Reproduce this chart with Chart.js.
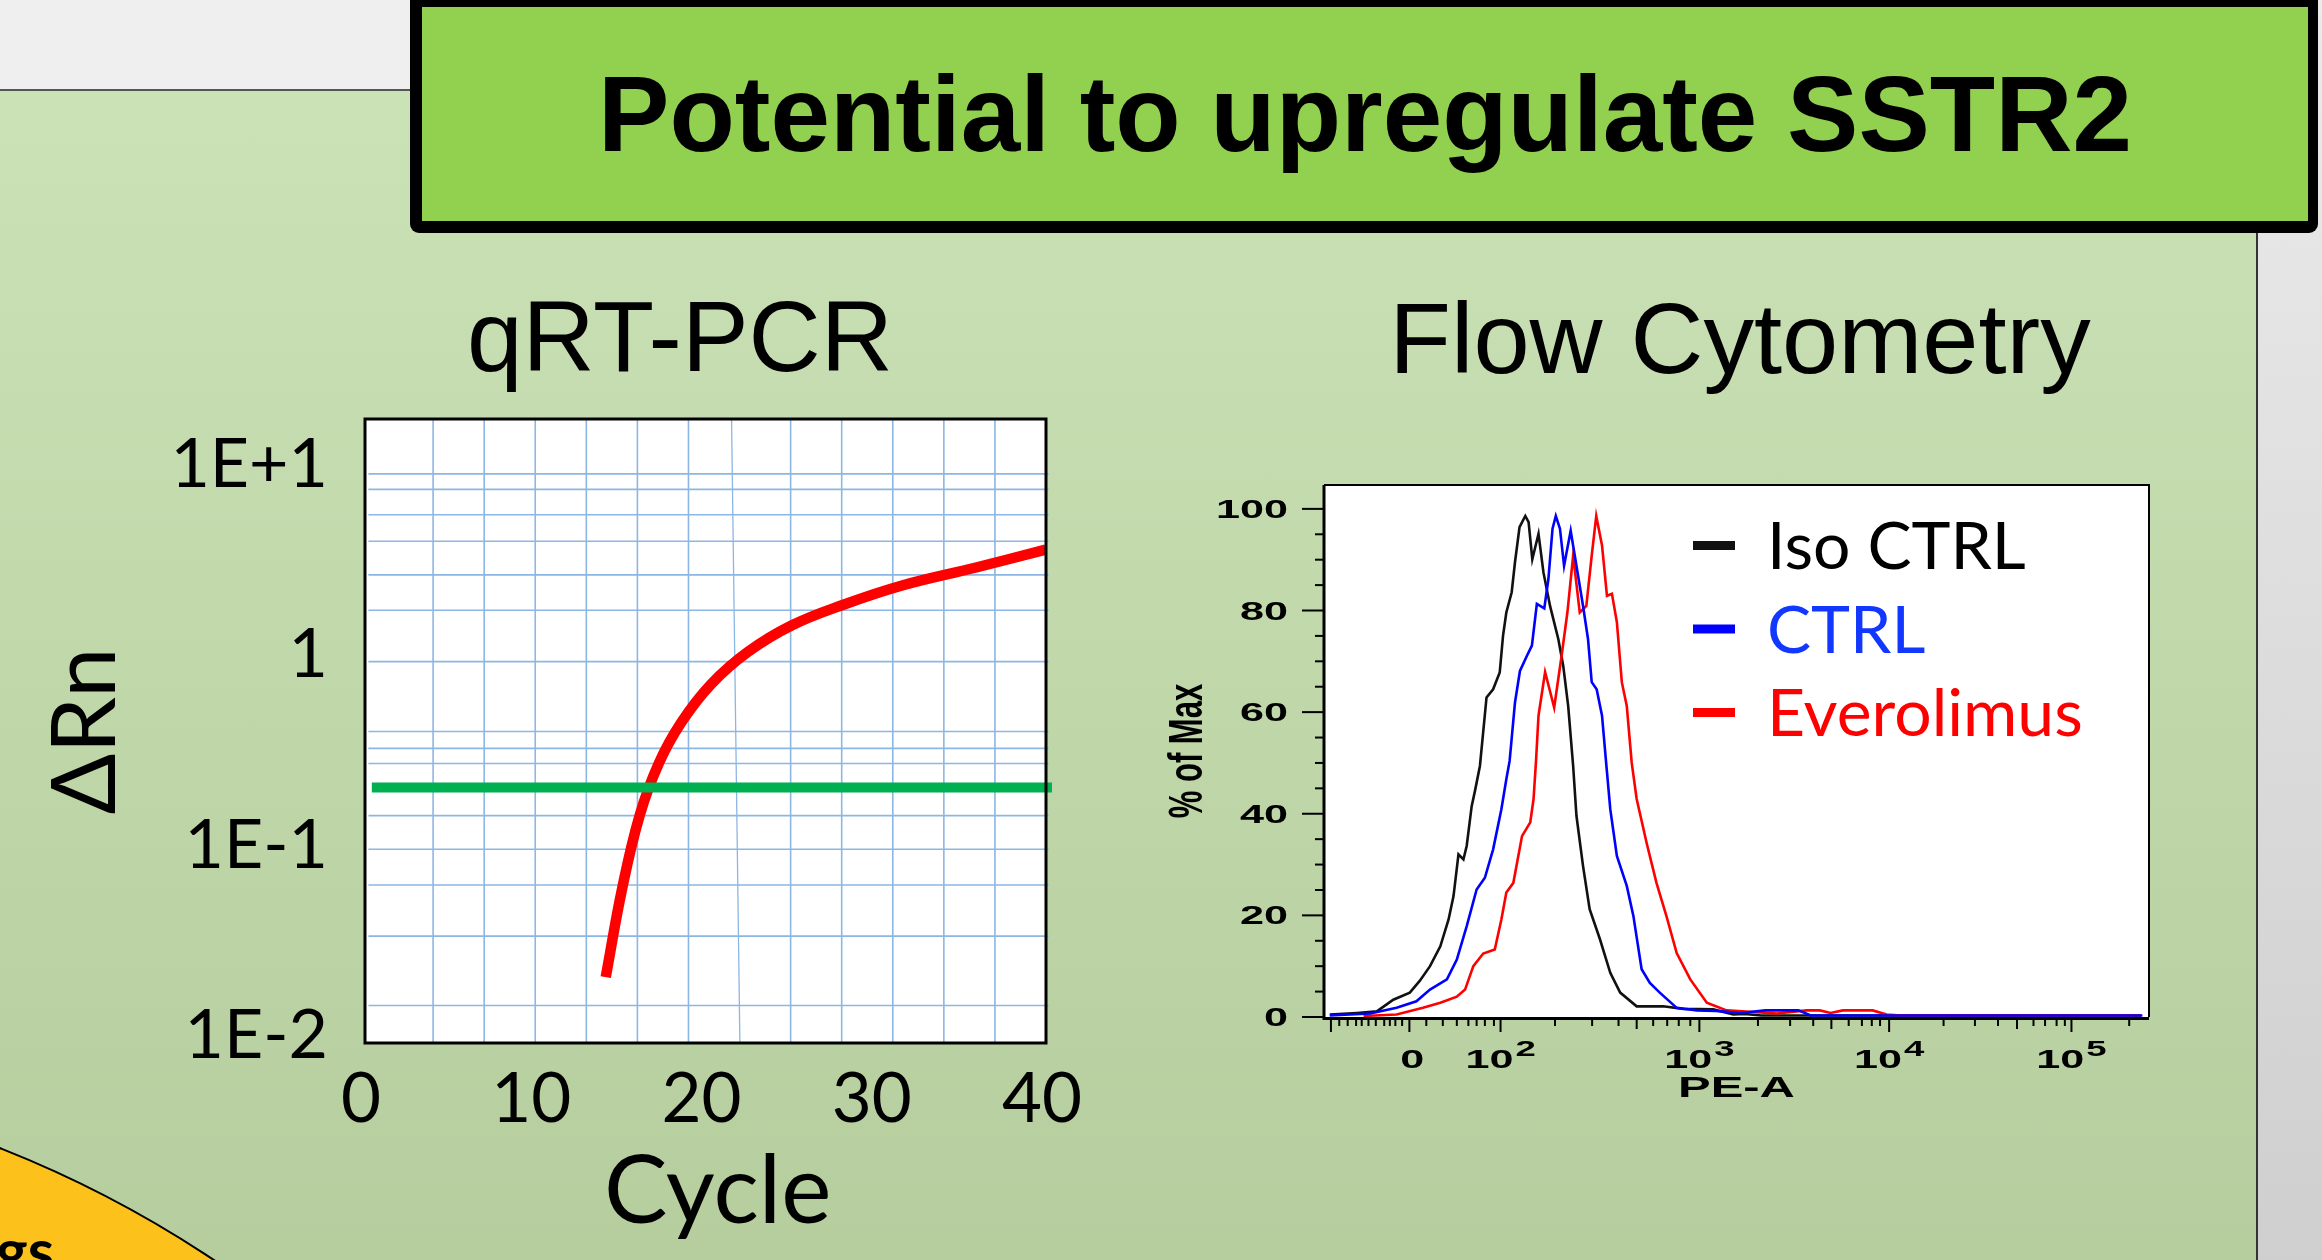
<!DOCTYPE html>
<html>
<head>
<meta charset="utf-8">
<title>Potential to upregulate SSTR2</title>
<script src="https://cdn.jsdelivr.net/npm/chart.js@4.4.1/dist/chart.umd.min.js"></script>
<style>
  html, body { margin: 0; padding: 0; }
  body { width: 2322px; height: 1260px; overflow: hidden; position: relative; background: #d6d6d6; font-family: 'Liberation Sans', Arial, sans-serif; }
  .abs { position: absolute; }
  #grayTop { left: 0; top: 0; width: 2258px; height: 90px; background: #efefef; }
  #grayRight { left: 2258px; top: 0; width: 64px; height: 1260px; background: linear-gradient(#ebebeb, #cfcfcf); }
  #panel { left: 0; top: 89px; width: 2258px; height: 1171px; box-sizing: border-box; background: linear-gradient(#cae2b6, #b6cd9e); border-top: 2px solid #555; border-right: 2px solid #333; }
  #circle { left: -1539px; top: 1069px; width: 2254px; height: 2254px; border-radius: 50%; background: #fdc11c; border: 2px solid #000; box-sizing: border-box; }
  #circleText { left: -4px; top: 1219px; font: bold 60px Lato, sans-serif; line-height: 1; color: #000; }
  #titleBox { left: 410px; top: -8px; width: 1908px; height: 241px; background: #000; border-radius: 9px; }
  #titleInner { left: 422px; top: 7px; width: 1886px; height: 214px; background: #92d050; display: flex; align-items: center; justify-content: center; font: bold 107px 'Liberation Sans', Arial, sans-serif; color: #000; white-space: nowrap; }
  .ctitle { font-family: 'Liberation Sans', Arial, sans-serif; line-height: 1; white-space: nowrap; transform: translateX(-50%); color: #000; }
  #t1 { left: 680px; top: 286px; font-size: 100px; }
  #t2 { left: 1740px; top: 288px; font-size: 101px; }
  #c1 { left: 0; top: 300px; }
  #c2 { left: 1150px; top: 440px; }
</style>
</head>
<body>
<div id="grayTop" class="abs"></div>
<div id="grayRight" class="abs"></div>
<div id="panel" class="abs"></div>
<div id="circle" class="abs"></div>
<div id="circleText" class="abs">gs</div>
<div id="titleBox" class="abs"></div>
<div id="titleInner" class="abs">Potential to upregulate SSTR2</div>
<div id="t1" class="abs ctitle">qRT-PCR</div>
<div id="t2" class="abs ctitle">Flow Cytometry</div>
<canvas id="c1" class="abs" width="1120" height="960"></canvas>
<canvas id="c2" class="abs" width="1040" height="700"></canvas>

<script>
// ---- qRT-PCR amplification plot ----
var CYCLE_TICKS = [0, 10, 20, 30, 40];
var DRN_TICKS = [0.01, 0.1, 1, 10];
var DRN_TICK_LABELS = ['1E-2', '1E-1', '1', '1E+1'];
var DRN_MIN = 0.0092;
var DRN_MAX = 17.4;

var AMP_CYCLE = [14.14, 15.10, 16.14, 17.27, 18.56, 20.32, 22.50, 25.08, 28.14, 31.60, 35.95, 39.98];
var AMP_DRN = [0.0204, 0.0593, 0.145, 0.272, 0.441, 0.703, 1.042, 1.437, 1.848, 2.332, 2.898, 3.586];

var THRESHOLD = 0.202;
var THRESHOLD_SPAN = [0.4, 40.35];

// the background grid of the schematic (not aligned with the labels)
var GRID_CYCLES = [4, 7, 10, 13, 16, 19, 25, 28, 31, 34, 37];
var GRID_SLANT_CYCLES = [21.53, 22.02];
var GRID_DRN = [0.01448, 0.0335, 0.0621, 0.0957, 0.1438, 0.2703, 0.3243, 0.398, 0.926, 1.723, 2.641, 3.97, 5.47, 7.43, 8.96];
var GRID_DRN_SPAN = [0.2, 40.15];

// ---- flow cytometry histogram (x in % of the PE-A axis width) ----
var ISO_X = [0.7, 4.0, 6.4, 8.4, 10.4, 11.6, 12.85, 14.1, 15.1, 15.7, 16.3, 16.9, 17.3, 17.9, 18.3, 18.9, 19.7, 20.5, 21.3, 21.7, 22.1, 22.75, 23.15, 23.7, 24.4, 24.8, 25.25, 26.0, 26.6, 27.4, 28.4, 29.0, 29.6, 30.2, 30.6, 31.4, 32.2, 33.45, 34.7, 35.9, 37.9, 41.1, 43.55, 47.2, 49.6, 51.0, 53.0, 99.0];
var ISO_Y = [0.5, 0.8, 1.1, 3.4, 4.8, 7.1, 10.0, 13.9, 19.2, 23.8, 32.0, 31.0, 33.7, 41.5, 44.5, 49.4, 62.9, 64.5, 67.8, 75.0, 79.6, 83.6, 89.5, 96.4, 98.6, 97.4, 90.1, 95.1, 87.5, 80.9, 74.4, 69.1, 61.2, 49.4, 39.6, 29.7, 21.2, 15.3, 8.7, 4.8, 2.1, 2.1, 1.6, 1.5, 0.5, 0.6, 0.3, 0.3];

var CTRL_X = [0.7, 5.6, 8.8, 11.2, 12.85, 14.9, 16.1, 17.3, 18.5, 19.5, 20.5, 21.5, 22.1, 22.5, 23.15, 23.75, 24.6, 25.2, 25.8, 26.7, 27.2, 27.7, 28.1, 28.6, 29.1, 29.9, 30.6, 31.4, 32.0, 32.45, 33.05, 33.7, 34.2, 34.7, 35.5, 36.7, 37.5, 38.5, 39.5, 40.7, 42.75, 45.2, 47.5, 50.5, 53.5, 57.5, 59.0, 99.2];
var CTRL_Y = [0.3, 0.7, 1.8, 3.1, 5.4, 7.4, 11.3, 17.9, 25.1, 27.4, 33.0, 40.9, 46.8, 50.4, 61.9, 68.1, 71.1, 73.1, 81.3, 80.4, 86.2, 96.1, 98.6, 96.1, 88.8, 95.7, 88.8, 80.9, 74.4, 65.9, 64.5, 59.3, 50.0, 40.9, 31.7, 25.8, 19.9, 9.4, 6.7, 4.8, 1.8, 1.3, 1.2, 0.8, 1.3, 1.3, 0.3, 0.3];

var EVERO_X = [4.8, 8.8, 12.0, 14.1, 16.1, 17.1, 18.1, 19.3, 20.7, 21.5, 22.1, 22.95, 24.0, 25.0, 25.4, 25.7, 26.0, 26.8, 27.9, 28.8, 29.5, 30.2, 31.0, 31.8, 32.45, 33.0, 33.7, 34.3, 34.9, 35.5, 36.1, 36.7, 37.3, 37.9, 39.1, 40.3, 41.5, 42.75, 44.4, 46.4, 48.8, 54.9, 58.5, 60.1, 61.4, 62.9, 66.5, 68.2, 70.0, 99.0];
var EVERO_Y = [0.2, 0.5, 1.8, 2.8, 4.0, 5.4, 10.0, 12.5, 13.3, 19.2, 24.5, 26.4, 35.6, 38.3, 42.9, 50.4, 59.3, 67.9, 60.9, 71.1, 79.6, 90.8, 79.6, 80.9, 90.8, 98.6, 92.8, 82.9, 83.3, 77.7, 65.9, 61.2, 50.0, 42.9, 34.3, 26.4, 19.9, 12.6, 7.4, 2.8, 1.3, 0.7, 1.3, 1.3, 0.8, 1.3, 1.3, 0.5, 0.3, 0.3];

var FLOW_SERIES = ['Iso CTRL', 'CTRL', 'Everolimus'];
var FLOW_Y_MAX = 104.7;
var FLOW_Y_TICKS = [0, 5, 10, 15, 20, 25, 30, 35, 40, 45, 50, 55, 60, 65, 70, 75, 80, 85, 90, 95, 100];
var FLOW_Y_LABELED = [0, 20, 40, 60, 80, 100];

var FLOW_X_MAJOR = [0.84, 10.35, 21.4, 45.5, 68.5, 90.6];
var FLOW_X_MID = [37.9, 61.5, 84.0];
var FLOW_X_MINOR = [1.85, 2.87, 3.89, 4.57, 5.39, 6.28, 7.30, 7.98, 8.65, 9.47, 12.4, 14.4, 16.1, 17.5, 18.5, 19.5, 20.6,
  28.0, 32.5, 35.7, 39.9, 41.6, 43.0, 44.4, 52.6, 56.5, 59.3, 63.6, 65.2, 66.4, 67.4,
  75.1, 78.9, 81.7, 86.0, 87.4, 88.8, 89.8, 97.6];
var FLOW_X_LABEL_POS = [10.7, 21.4, 45.5, 68.5, 90.6];
var FLOW_X_LABEL_BASE = ['0', '10', '10', '10', '10'];
var FLOW_X_LABEL_EXP = ['', '2', '3', '4', '5'];

var CALIBRI_LIKE = "Lato, 'DejaVu Sans', sans-serif";
var HELV_BOLD = "bold {s}px 'Liberation Sans', Arial, sans-serif";
var FLOW_STRETCH = 1.66;

function zip(xs, ys) {
  return xs.map(function (x, i) { return {x: x, y: ys[i]}; });
}

function helv(size) { return HELV_BOLD.replace('{s}', size); }

// ---------------- chart 1 ----------------
var vGrid = [];
GRID_CYCLES.forEach(function (c) {
  vGrid.push({x: c, y: DRN_MIN}, {x: c, y: DRN_MAX}, {x: c, y: null});
});
var hGrid = [];
GRID_DRN.forEach(function (v) {
  hGrid.push({x: GRID_DRN_SPAN[0], y: v}, {x: GRID_DRN_SPAN[1], y: v}, {x: GRID_DRN_SPAN[1], y: null});
});

var whitePlot = {
  id: 'whitePlot',
  beforeDraw: function (chart) {
    var a = chart.chartArea, ctx = chart.ctx;
    ctx.save();
    ctx.fillStyle = '#fff';
    ctx.fillRect(a.left, a.top, a.right - a.left, a.bottom - a.top);
    ctx.restore();
  }
};

var pcrFrame = {
  id: 'pcrFrame',
  afterDraw: function (chart) {
    var a = chart.chartArea, ctx = chart.ctx;
    ctx.save();
    ctx.strokeStyle = '#000';
    ctx.lineWidth = 3;
    ctx.strokeRect(a.left, a.top, a.right - a.left, a.bottom - a.top);
    ctx.restore();
  }
};

new Chart(document.getElementById('c1'), {
  type: 'line',
  data: {
    datasets: [
      { label: 'amplification', data: zip(AMP_CYCLE, AMP_DRN), borderColor: '#ff0000', borderWidth: 10.5,
        pointRadius: 0, tension: 0.4, order: 2 },
      { label: 'threshold', data: [{x: THRESHOLD_SPAN[0], y: THRESHOLD}, {x: THRESHOLD_SPAN[1], y: THRESHOLD}],
        borderColor: '#00b050', borderWidth: 10, pointRadius: 0, clip: false, order: 1 },
      { label: 'vgrid', data: vGrid, borderColor: '#8cb7e4', borderWidth: 1.6, pointRadius: 0, order: 3 },
      { label: 'hgrid', data: hGrid, borderColor: '#8cb7e4', borderWidth: 1.6, pointRadius: 0, clip: false, order: 3 },
      { label: 'slant', data: [{x: GRID_SLANT_CYCLES[0], y: DRN_MAX}, {x: GRID_SLANT_CYCLES[1], y: DRN_MIN}],
        borderColor: '#8cb7e4', borderWidth: 1.3, pointRadius: 0, order: 3 }
    ]
  },
  options: {
    responsive: false,
    animation: false,
    layout: { padding: { left: 0, top: 119, right: 74, bottom: 0 } },
    plugins: { legend: { display: false }, tooltip: { enabled: false } },
    scales: {
      x: {
        type: 'linear', min: 0, max: 40,
        afterBuildTicks: function (s) { s.ticks = CYCLE_TICKS.map(function (v) { return {value: v}; }); },
        afterFit: function (s) { s.height = 217; },
        grid: { display: false, drawTicks: false },
        border: { display: false },
        ticks: { padding: 15, labelOffset: -4, color: '#000', maxRotation: 0, autoSkip: false, font: { family: CALIBRI_LIKE, size: 69 } },
        title: { display: true, text: ' Cycle', color: '#000', font: { family: CALIBRI_LIKE, size: 95 }, padding: { top: 0, bottom: 11 } }
      },
      y: {
        type: 'logarithmic', min: DRN_MIN, max: DRN_MAX,
        afterBuildTicks: function (s) { s.ticks = DRN_TICKS.map(function (v) { return {value: v}; }); },
        afterFit: function (s) { s.width = 365; },
        grid: { display: false, drawTicks: false },
        border: { display: false },
        ticks: {
          padding: 37, color: '#000', autoSkip: false, font: { family: CALIBRI_LIKE, size: 68 },
          callback: function (v) { return DRN_TICK_LABELS[DRN_TICKS.indexOf(v)]; }
        },
        title: { display: true, text: '\u0394Rn', color: '#000', font: { family: CALIBRI_LIKE, size: 90 }, padding: { top: 32, bottom: 0 } }
      }
    }
  },
  plugins: [whitePlot, pcrFrame]
});

// ---------------- chart 2 ----------------
function drawStretched(ctx, text, x, y, sx, align) {
  ctx.save();
  ctx.translate(x, y);
  ctx.scale(sx, 1);
  ctx.textAlign = align;
  ctx.fillText(text, 0, 0);
  ctx.restore();
}

var flowAxes = {
  id: 'flowAxes',
  afterDraw: function (chart) {
    var a = chart.chartArea, ctx = chart.ctx;
    var xs = chart.scales.x, ys = chart.scales.y;
    ctx.save();
    ctx.strokeStyle = '#000';
    ctx.fillStyle = '#000';

    // frame
    ctx.lineWidth = 2;
    ctx.beginPath();
    ctx.moveTo(a.left, a.top); ctx.lineTo(a.right, a.top); ctx.lineTo(a.right, a.bottom);
    ctx.stroke();
    ctx.lineWidth = 3;
    ctx.beginPath();
    ctx.moveTo(a.left, a.top); ctx.lineTo(a.left, a.bottom + 1.5); ctx.lineTo(a.right, a.bottom + 1.5);
    ctx.stroke();

    // y ticks
    ctx.lineWidth = 2;
    FLOW_Y_TICKS.forEach(function (v) {
      var py = ys.getPixelForValue(v);
      var len = FLOW_Y_LABELED.indexOf(v) >= 0 ? 22 : 9;
      ctx.beginPath(); ctx.moveTo(a.left - len, py); ctx.lineTo(a.left, py); ctx.stroke();
    });
    ctx.font = helv(26);
    FLOW_Y_LABELED.forEach(function (v) {
      drawStretched(ctx, String(v), a.left - 36, ys.getPixelForValue(v) + 9, FLOW_STRETCH, 'right');
    });

    // x ticks
    function xTicks(list, len) {
      list.forEach(function (t) {
        var px = xs.getPixelForValue(t);
        ctx.beginPath(); ctx.moveTo(px, a.bottom); ctx.lineTo(px, a.bottom + len); ctx.stroke();
      });
    }
    xTicks(FLOW_X_MAJOR, 15);
    xTicks(FLOW_X_MID, 12);
    xTicks(FLOW_X_MINOR, 9);

    FLOW_X_LABEL_POS.forEach(function (t, i) {
      var px = xs.getPixelForValue(t);
      var base = FLOW_X_LABEL_BASE[i], exp = FLOW_X_LABEL_EXP[i];
      ctx.font = helv(26);
      var wb = ctx.measureText(base).width * FLOW_STRETCH;
      ctx.font = helv(22);
      var we = exp ? ctx.measureText(exp).width * FLOW_STRETCH + 2 : 0;
      var left = px - (wb + we) / 2;
      var baseY = a.bottom + 51;
      ctx.font = helv(26);
      drawStretched(ctx, base, left, baseY, FLOW_STRETCH, 'left');
      if (exp) {
        ctx.font = helv(22);
        drawStretched(ctx, exp, left + wb + 2, baseY - 12, FLOW_STRETCH, 'left');
      }
    });

    // axis titles
    ctx.font = helv(30);
    drawStretched(ctx, 'PE-A', (a.left + a.right) / 2, a.bottom + 80, 1.63, 'center');

    ctx.save();
    ctx.translate(a.left - 140, (a.top + a.bottom) / 2);
    ctx.rotate(-Math.PI / 2);
    ctx.scale(1, 1.55);
    ctx.font = helv(31);
    ctx.textAlign = 'center';
    ctx.fillText('% of Max', 0, 0.365 * 31);
    ctx.restore();

    // legend
    ctx.font = '66px ' + CALIBRI_LIKE;
    ctx.textAlign = 'left';
    chart.data.datasets.slice().sort(function (p, q) { return p.legendIndex - q.legendIndex; }).forEach(function (ds, i) {
      var baseY = a.top + 84 + i * 83.5;
      ctx.fillStyle = ds.borderColor;
      ctx.fillRect(a.left + 369, baseY - 28, 42, 9);
      ctx.fillStyle = ds.textColor;
      ctx.fillText(ds.label, a.left + 443, baseY);
    });
    ctx.restore();
  }
};

new Chart(document.getElementById('c2'), {
  type: 'line',
  data: {
    datasets: [
      { label: FLOW_SERIES[1], legendIndex: 1, data: zip(CTRL_X, CTRL_Y), borderColor: '#0000ff', textColor: '#1238ff',
        borderWidth: 2.6, pointRadius: 0, order: 0 },
      { label: FLOW_SERIES[2], legendIndex: 2, data: zip(EVERO_X, EVERO_Y), borderColor: '#ff0000', textColor: '#ff0000',
        borderWidth: 2.6, pointRadius: 0, order: 1 },
      { label: FLOW_SERIES[0], legendIndex: 0, data: zip(ISO_X, ISO_Y), borderColor: '#111111', textColor: '#000000',
        borderWidth: 2.6, pointRadius: 0, order: 2 }
    ]
  },
  options: {
    responsive: false,
    animation: false,
    layout: { padding: { left: 174, top: 45, right: 41, bottom: 123 } },
    plugins: { legend: { display: false }, tooltip: { enabled: false } },
    scales: {
      x: { type: 'linear', min: 0, max: 100, display: false },
      y: { type: 'linear', min: 0, max: FLOW_Y_MAX, display: false }
    }
  },
  plugins: [whitePlot, flowAxes]
});
</script>
</body>
</html>
